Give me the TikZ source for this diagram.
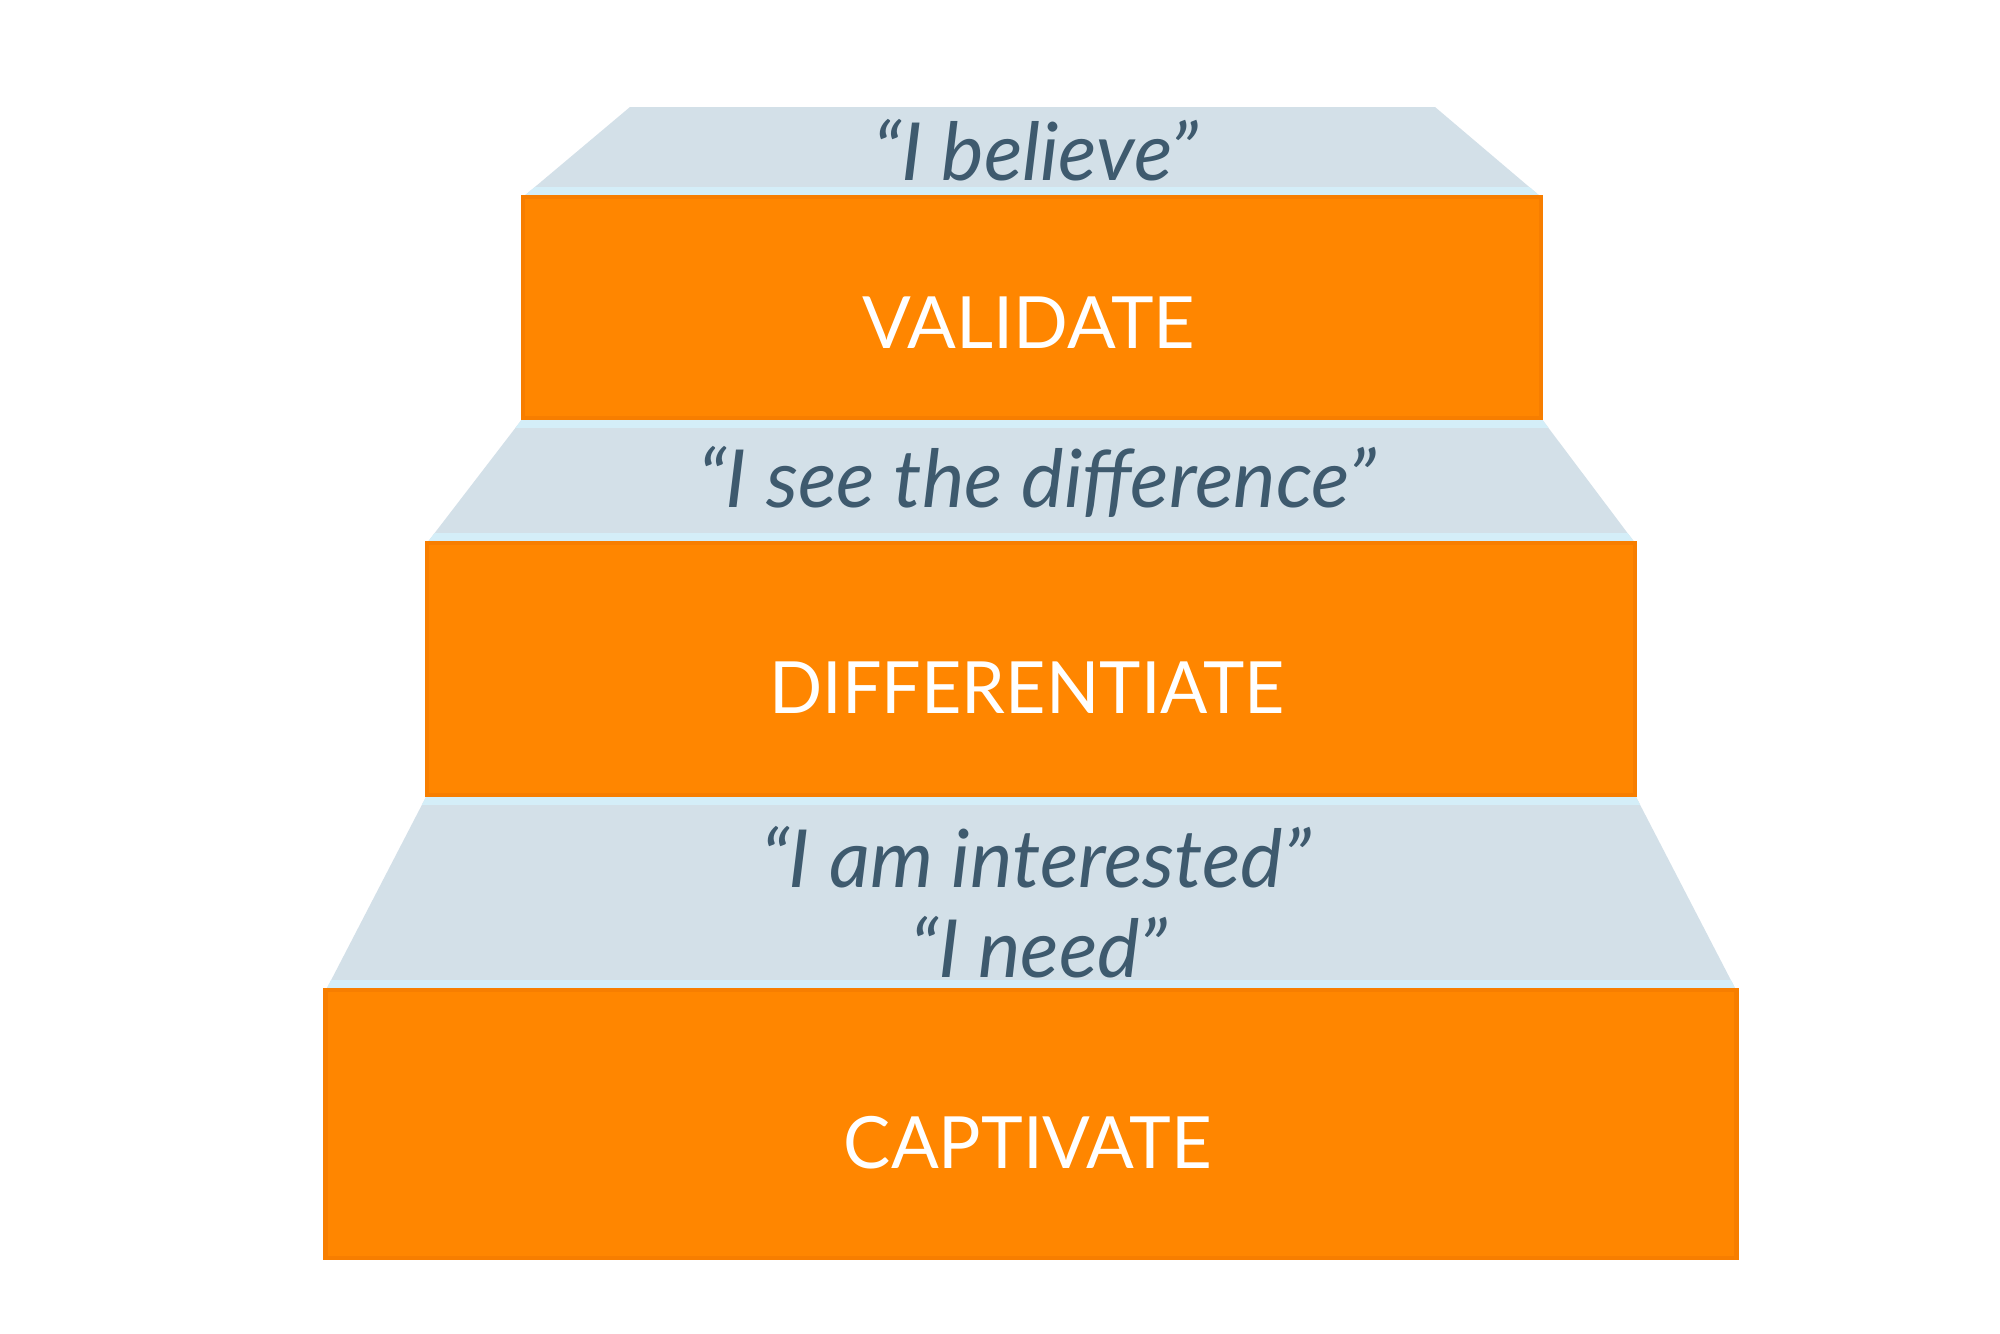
\documentclass[tikz,border=0pt]{standalone}
\usepackage{fontspec}
\setmainfont{Lato}
\definecolor{steporange}{HTML}{FF8600}
\definecolor{stepedge}{HTML}{F77E00}
\definecolor{treadfill}{HTML}{D3E0E8}
\definecolor{treadline}{HTML}{D4EEF8}
\definecolor{quotetext}{HTML}{3E5A6E}
\begin{document}
\begin{tikzpicture}[x=0.01cm,y=-0.01cm,
  riser/.style={fill=steporange, draw=stepedge, line width=1.2pt, inner sep=0pt},
  risertext/.style={text=white, anchor=base, inner sep=0pt, font=\fontsize{20.5}{24}\selectfont},
  tread/.style={fill=treadfill},
  nosing/.style={fill=treadline},
  saying/.style={text=quotetext, anchor=base, inner sep=0pt, font=\fontsize{22.8}{27}\selectfont\itshape}]
\useasboundingbox (0,0) rectangle (2000,1333);
\fill[white] (0,0) rectangle (2000,1333);

% treads (light trapezoids with a pale band where they meet the risers)
\fill[tread] (630,107) -- (1435,107) -- (1541,197) -- (523,197) -- cycle;
\begin{scope}
  \clip (630,107) -- (1435,107) -- (1541,197) -- (523,197) -- cycle;
  \fill[nosing] (0,187) rectangle (2000,197);
\end{scope}

\fill[tread] (523,418) -- (1541,418) -- (1635,543) -- (427,543) -- cycle;
\begin{scope}
  \clip (523,418) -- (1541,418) -- (1635,543) -- (427,543) -- cycle;
  \fill[nosing] (0,418) rectangle (2000,428);
  \fill[nosing] (0,533) rectangle (2000,543);
\end{scope}

\fill[tread] (427,795) -- (1635,795) -- (1736,990) -- (326,990) -- cycle;
\begin{scope}
  \clip (427,795) -- (1635,795) -- (1736,990) -- (326,990) -- cycle;
  \fill[nosing] (0,795) rectangle (2000,805);
  \fill[nosing] (0,980) rectangle (2000,990);
\end{scope}

% risers
\node[riser, minimum width=10.18cm, minimum height=2.21cm] (validate) at (1032,307.5) {};
\node[riser, minimum width=12.08cm, minimum height=2.52cm] (differentiate) at (1031,669) {};
\node[riser, minimum width=14.10cm, minimum height=2.68cm] (captivate) at (1031,1124) {};

\node[risertext] (tv) at (1029,348) {VALIDATE};
\node[risertext] (td) at (1027,713) {\scalebox{0.97}[1]{DIFFERENTIATE}};
\node[risertext] (tc) at (1028,1168) {\scalebox{0.98}[1]{CAPTIVATE}};

% sayings on the treads
\node[saying] (q1) at (1036,180) {“I believe”};
\node[saying] (q2) at (1037,507) {“I see the difference”};
\node[saying] (q3) at (1036,887) {“I am interested”};
\node[saying] (q4) at (1039,977) {“I need”};
\end{tikzpicture}
\end{document}
